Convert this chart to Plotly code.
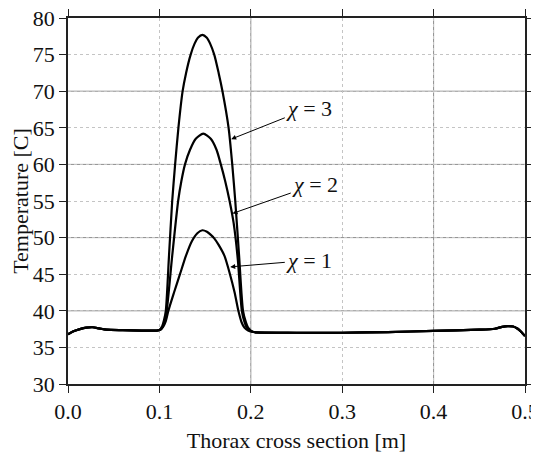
import plotly.graph_objects as go

# shared baseline (left and right of the heated zone)
BASE_LEFT_X = [0.0, 0.006, 0.013, 0.02, 0.027, 0.034, 0.042, 0.06, 0.08, 0.097]
BASE_LEFT_T = [36.8, 37.2, 37.5, 37.7, 37.75, 37.6, 37.42, 37.35, 37.3, 37.3]

BASE_RIGHT_X = [0.203, 0.25, 0.3, 0.35, 0.4, 0.45, 0.467, 0.475, 0.481, 0.487, 0.492, 0.496, 0.5]
BASE_RIGHT_T = [37.1, 37.0, 37.0, 37.1, 37.25, 37.42, 37.55, 37.8, 37.9, 37.85, 37.55, 37.1, 36.55]

# heated zone for each chi value
CHI1_X = [0.101, 0.104, 0.107, 0.1098, 0.1160, 0.1225, 0.1290, 0.1355, 0.1415, 0.147,
          0.152, 0.156, 0.160, 0.1648, 0.1712, 0.1772, 0.1823, 0.1864, 0.190, 0.193, 0.197]
CHI1_T = [37.4, 37.8, 38.6, 40.0, 42.5, 45.0, 47.5, 49.5, 50.6, 51.0,
          50.8, 50.4, 49.9, 49.0, 47.5, 45.0, 42.5, 40.0, 38.4, 37.7, 37.3]

CHI2_X = [0.101, 0.104, 0.106, 0.108, 0.1140, 0.1205, 0.1240, 0.128, 0.1335, 0.1398, 0.148,
          0.1562, 0.1625, 0.1672, 0.1720, 0.1768, 0.1812, 0.1858, 0.1902, 0.193, 0.1955, 0.199]
CHI2_T = [37.4, 37.9, 38.7, 40.0, 47.5, 55.0, 57.7, 60.0, 62.0, 63.5, 64.2,
          63.5, 62.0, 60.0, 57.7, 55.0, 52.0, 47.0, 40.0, 38.5, 37.7, 37.3]

CHI3_X = [0.100, 0.103, 0.105, 0.107, 0.1105, 0.1140, 0.1172, 0.1208, 0.1254, 0.1292, 0.1342,
          0.1385, 0.1421, 0.147, 0.1519, 0.1555, 0.160, 0.1648, 0.1690, 0.1757, 0.1797,
          0.1830, 0.1872, 0.1915, 0.1945, 0.197, 0.2]
CHI3_T = [37.4, 37.9, 38.7, 40.0, 47.5, 55.0, 60.0, 65.0, 70.0, 72.5, 75.0,
          76.5, 77.3, 77.7, 77.3, 76.5, 75.0, 72.5, 70.0, 65.0, 60.0,
          55.0, 47.5, 40.0, 38.5, 37.7, 37.3]

CURVE_NAMES = ["χ = 1", "χ = 2", "χ = 3"]
CURVE_X = [CHI1_X, CHI2_X, CHI3_X]
CURVE_T = [CHI1_T, CHI2_T, CHI3_T]

# label positions (text centre) and arrow heads, data coords
LABEL_TEXT = ["<i>χ</i> = 1", "<i>χ</i> = 2", "<i>χ</i> = 3"]
LABEL_X = [0.2640, 0.2705, 0.2640]
LABEL_T = [46.9, 57.26, 67.7]
HEAD_X = [0.1775, 0.1800, 0.1785]
HEAD_T = [46.0, 53.3, 63.45]

X_TICKS = [0.0, 0.1, 0.2, 0.3, 0.4, 0.5]
Y_TICKS = [30, 35, 40, 45, 50, 55, 60, 65, 70, 75, 80]
X_SOLID_GRID = [0.2, 0.4]
Y_SOLID_GRID = [40, 50, 60, 70]

FONT = "Liberation Serif, Times New Roman, serif"
AXIS_COLOR = "#222222"
DOT_GRID = "#c4c4c4"
SOLID_GRID = "#8c8c8c"

# the page body adds an 8px offset, so the figure is sized to fit the window
FIG_WIDTH = 531
FIG_HEIGHT = 451
FIG_MARGIN = dict(l=60, r=14, t=10, b=75)


def base_axis():
    return dict(
        showline=True,
        linecolor=AXIS_COLOR,
        linewidth=1.5,
        mirror="ticks",
        ticks="outside",
        ticklen=7,
        tickwidth=1.2,
        tickcolor=AXIS_COLOR,
        showgrid=True,
        gridcolor=DOT_GRID,
        griddash="dot",
        gridwidth=1,
        zeroline=False,
        automargin=False,
        ticklabeloverflow="allow",
        tickfont=dict(family=FONT, size=22, color="#111111"),
        title_font=dict(family=FONT, size=22, color="#111111"),
    )


fig = go.Figure()

for xs, ts, name in zip(CURVE_X, CURVE_T, CURVE_NAMES):
    fig.add_trace(go.Scatter(
        x=BASE_LEFT_X + xs + BASE_RIGHT_X,
        y=BASE_LEFT_T + ts + BASE_RIGHT_T,
        mode="lines",
        name=name,
        line=dict(color="black", width=2.2, shape="spline", smoothing=0.7),
        showlegend=False,
    ))

# solid major grid lines drawn over the dotted ones
for gx in X_SOLID_GRID:
    fig.add_shape(type="line", xref="x", yref="paper", x0=gx, x1=gx, y0=0, y1=1,
                  line=dict(color=SOLID_GRID, width=1), layer="between")
for gy in Y_SOLID_GRID:
    fig.add_shape(type="line", xref="paper", yref="y", x0=0, x1=1, y0=gy, y1=gy,
                  line=dict(color=SOLID_GRID, width=1), layer="between")

for text, lx, lt, hx, ht in zip(LABEL_TEXT, LABEL_X, LABEL_T, HEAD_X, HEAD_T):
    fig.add_annotation(
        x=hx, y=ht, ax=lx, ay=lt, axref="x", ayref="y",
        text=text, showarrow=True,
        arrowhead=2, arrowsize=1, arrowwidth=1, arrowcolor="black",
        standoff=0,
        font=dict(family=FONT, size=22, color="#111111"),
    )

fig.update_layout(
    width=FIG_WIDTH,
    height=FIG_HEIGHT,
    margin=FIG_MARGIN,
    plot_bgcolor="white",
    paper_bgcolor="white",
    font=dict(family=FONT, size=22, color="#111111"),
    xaxis=dict(
        **base_axis(),
        range=[0, 0.5],
        tickvals=X_TICKS,
        tickformat=".1f",
        title=dict(text="Thorax cross section [m]", standoff=9),
    ),
    yaxis=dict(
        **base_axis(),
        range=[30, 80],
        tickvals=Y_TICKS,
        title=dict(text="Temperature [C]", standoff=14),
    ),
)

fig.write_html("out.html")
